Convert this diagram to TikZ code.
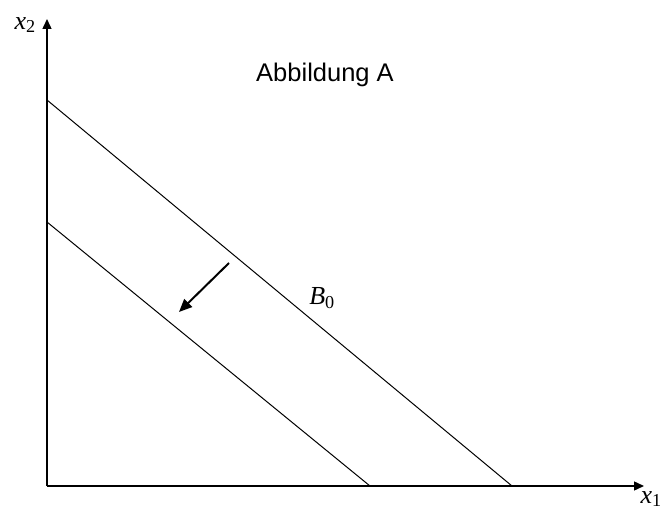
\documentclass[tikz,border=0pt]{standalone}
\usepackage{fontspec}
\setmainfont{Liberation Sans}
\newfontfamily\zeitfont{Liberation Serif}
\usetikzlibrary{positioning, arrows.meta}

\begin{document}
\begin{tikzpicture}[x=1pt, y=1pt,
			achse/.style={-{Triangle[length=10pt, width=9pt]}, line width=1.4pt},
			gerade/.style={line width=1pt},
			schub/.style={-{Triangle[length=13pt, width=11pt]}, line width=2pt},
			beschr/.style={font=\zeitfont\fontsize{26}{28}\selectfont, inner sep=0pt}]
			\useasboundingbox (0,0) rectangle (664,512);
			% Achsen
			\coordinate (ursprung) at (47,26);
			\coordinate (yende) at (47,493);
			\coordinate (xende) at (644,26);
			\draw[achse] (ursprung) -- (yende);
			\draw[achse] (ursprung) -- (xende);
			\node[beschr, anchor=east] (xzwei) at (36,487) {\textit{x}\textsubscript{2}};
			\node[beschr, anchor=east] (xeins) at (662,13) {\textit{x}\textsubscript{1}};
			% Budgetgeraden
			\coordinate (bnull) at (47,412);
			\coordinate (bnullx) at (512,26);
			\coordinate (beins) at (47,290);
			\coordinate (beinsx) at (370,26);
			\draw[gerade] (bnull) -- (bnullx);
			\draw[gerade] (beins) -- (beinsx);
			\node[beschr] (bnulltext) at (322,214) {\textit{B}\textsubscript{0}};
			% Verschiebung
			\coordinate (von) at (229,249);
			\coordinate (nach) at (179,200);
			\draw[schub] (von) -- (nach);
			\node[font=\fontsize{25.5}{28}\selectfont] (titel) at (325,437) {Abbildung A};
		\end{tikzpicture}
\end{document}
